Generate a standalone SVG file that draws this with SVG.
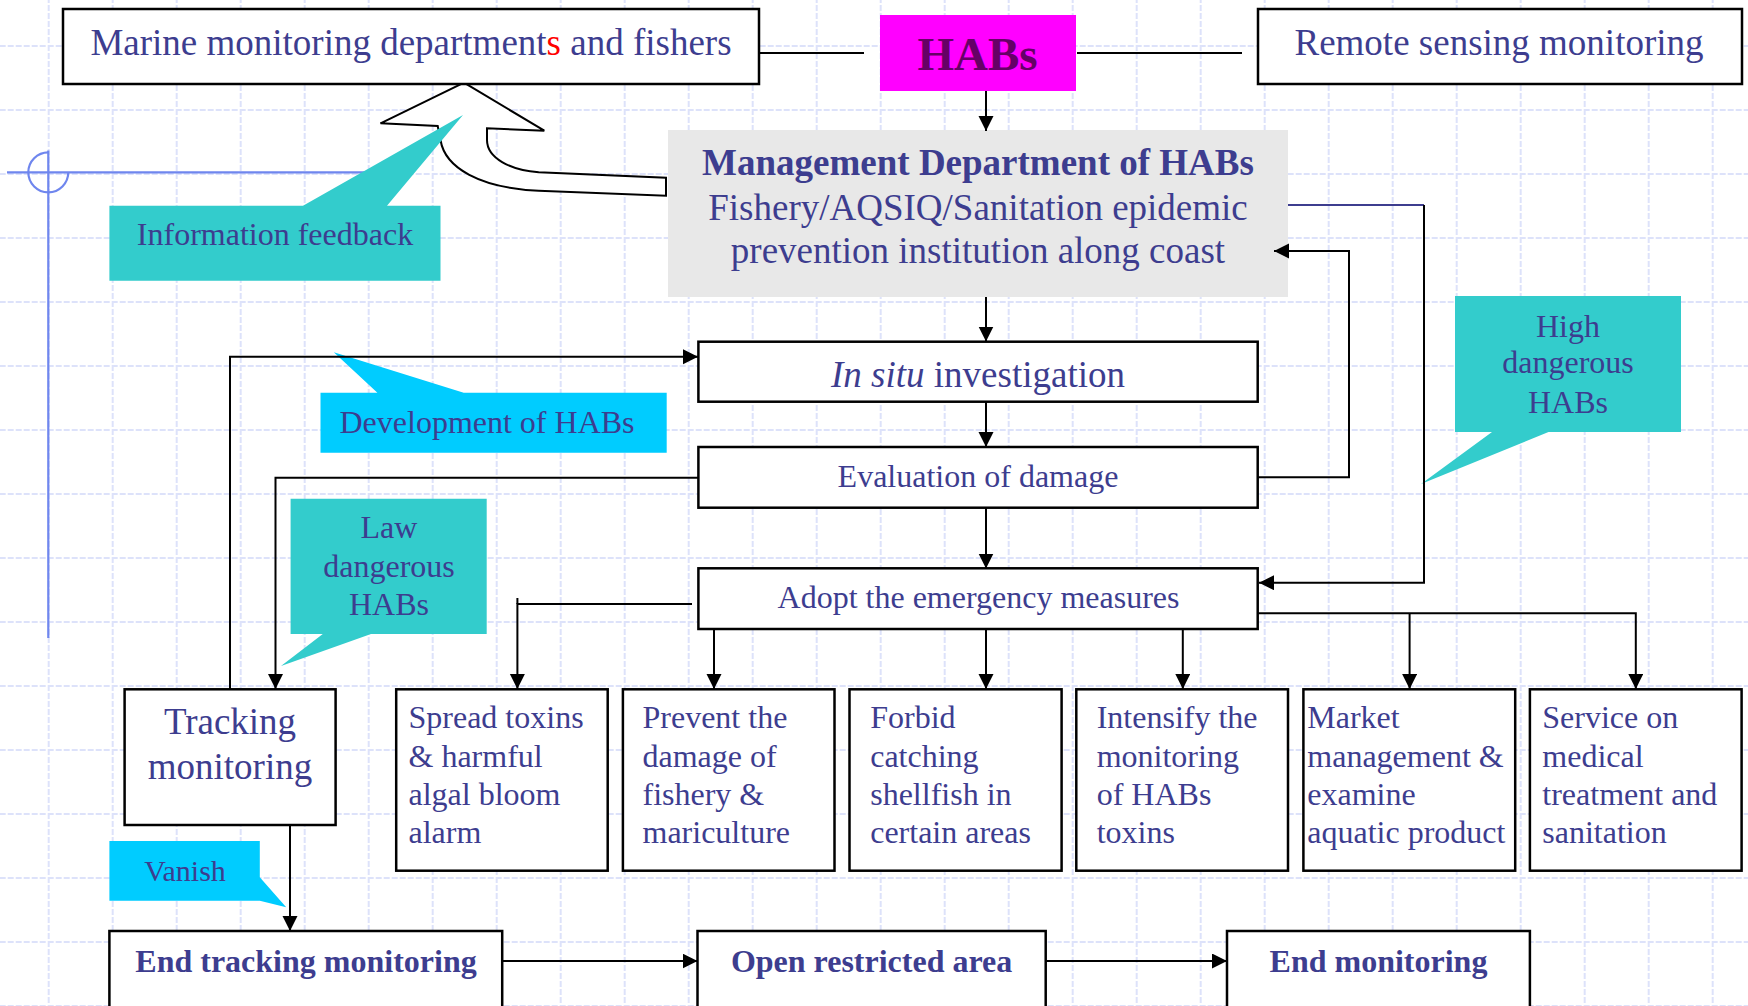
<svg xmlns="http://www.w3.org/2000/svg" width="1748" height="1006" viewBox="0 0 1748 1006">
<defs>
<pattern id="grid" x="47.7" y="45" width="64" height="64" patternUnits="userSpaceOnUse">
<line x1="0" y1="1" x2="64" y2="1" stroke="#dde2fa" stroke-width="2" stroke-dasharray="6 2"/>
<line x1="1" y1="0" x2="1" y2="64" stroke="#dde2fa" stroke-width="2" stroke-dasharray="6 2"/>
</pattern>
<marker id="ah" markerUnits="userSpaceOnUse" markerWidth="16" markerHeight="16" refX="15" refY="7.5" orient="auto">
<path d="M0,0 L15,7.5 L0,15 z" fill="#000"/>
</marker>
<style>
.box{fill:#fff;stroke:#000;stroke-width:2.5}
.t{font-family:"Liberation Serif","Times New Roman",serif;fill:#3d3d8f}
.c{text-anchor:middle}
.b{font-weight:bold}
.f37{font-size:37px}
.f32{font-size:32px}
.con{fill:none;stroke:#000;stroke-width:2}
.arr{marker-end:url(#ah)}
.teal{fill:#33cccc}
.cyan{fill:#00ccff}
</style>
</defs>
<rect width="1748" height="1006" fill="#fff"/>
<rect width="1748" height="1006" fill="url(#grid)"/>

<g id="crosshair" fill="none" stroke="#6f86ee" stroke-width="2.2">
<path d="M48.3,152.3 A20,20 0 1 0 68.3,172.3"/>
<line x1="7" y1="172.3" x2="385" y2="172.3"/>
<line x1="48.3" y1="150.5" x2="48.3" y2="638"/>
</g>

<g id="feedback-arrow">
<path d="M464,82.7 L544.3,130.7 L487,128.3 L487,140 C487,158 510,170 538.7,172.3 L666,177.7 L666,195.7 L538.7,190.7 C480,188 445,168 440.5,140 L437.7,126 L380.5,123.3 Z" fill="#fff" stroke="#000" stroke-width="2"/>
</g>

<g id="callouts">
<g id="info-feedback">
<polygon class="teal" points="109.4,205.7 303,205.7 463,115 387,205.7 440.5,205.7 440.5,280.7 109.4,280.7"/>
<text class="t c f32" x="275" y="245">Information feedback</text>
</g>
<g id="development">
<polygon class="cyan" points="320.5,392.7 377.4,392.7 333.8,352.3 463.7,392.7 666.7,392.7 666.7,452.7 320.5,452.7"/>
<text class="t c f32" x="487" y="432.7">Development of HABs</text>
</g>
<g id="law-dangerous">
<polygon class="teal" points="290.6,498.7 486.7,498.7 486.7,634 371,634 281,666 322.8,634 290.6,634"/>
<text class="t c f32" x="389" y="538.3">Law</text>
<text class="t c f32" x="389" y="576.7">dangerous</text>
<text class="t c f32" x="389" y="615">HABs</text>
</g>
<g id="high-dangerous">
<polygon class="teal" points="1455,296 1681,296 1681,432 1548.5,432 1421,484 1492,432 1455,432"/>
<text class="t c f32" x="1568" y="336.7">High</text>
<text class="t c f32" x="1568" y="373.3">dangerous</text>
<text class="t c f32" x="1568" y="413.3">HABs</text>
</g>
<g id="vanish">
<polygon class="cyan" points="109.4,841 259.8,841 259.8,877.3 286.2,907.3 259.8,900.7 109.4,900.7"/>
<text class="t c" style="font-size:30px" x="185" y="880.7">Vanish</text>
</g>
</g>

<g id="marine">
<rect class="box" x="63" y="9" width="696" height="75"/>
<text class="t c f37" x="411" y="55">Marine monitoring department<tspan fill="#ff0000">s</tspan> and fishers</text>
</g>
<g id="habs">
<rect x="880" y="15" width="196" height="76" fill="#ff00ff"/>
<text class="c b" x="977.5" y="70" style="font-family:'Liberation Serif',serif;font-size:47px;fill:#660066">HABs</text>
</g>
<g id="remote">
<rect class="box" x="1258" y="9" width="484" height="75"/>
<text class="t c f37" x="1499" y="55">Remote sensing monitoring</text>
</g>
<g id="management">
<rect x="668" y="130" width="620" height="167" fill="#e8e8e8"/>
<text class="t c f37 b" x="978" y="175">Management Department of HABs</text>
<text class="t c f37" x="978" y="220">Fishery/AQSIQ/Sanitation epidemic</text>
<text class="t c f37" x="978" y="263.3">prevention institution along coast</text>
</g>
<g id="insitu">
<rect class="box" x="698.4" y="341.7" width="559.3" height="60"/>
<text class="t c f37" x="978" y="387.3"><tspan font-style="italic">In situ</tspan> investigation</text>
</g>
<g id="evaluation">
<rect class="box" x="698.4" y="447" width="559.3" height="60.7"/>
<text class="t c f32" x="978" y="487.3">Evaluation of damage</text>
</g>
<g id="adopt">
<rect class="box" x="698.4" y="568.3" width="559.3" height="60.7"/>
<text class="t c f32" x="978.5" y="608.3">Adopt the emergency measures</text>
</g>
<g id="tracking">
<rect class="box" x="124.6" y="689.3" width="211" height="135.7"/>
<text class="t c f37" x="230" y="734">Tracking</text>
<text class="t c f37" x="230" y="779.3">monitoring</text>
</g>
<g id="spread">
<rect class="box" x="396.2" y="689.3" width="211.5" height="181.4"/>
<text class="t f32" x="408.5" y="728.3">Spread toxins<tspan x="408.5" dy="38.3">&amp; harmful</tspan><tspan x="408.5" dy="38.3">algal bloom</tspan><tspan x="408.5" dy="38.3">alarm</tspan></text>
</g>
<g id="prevent">
<rect class="box" x="622.9" y="689.3" width="211.6" height="181.4"/>
<text class="t f32" x="642.5" y="728.3">Prevent the<tspan x="642.5" dy="38.3">damage of</tspan><tspan x="642.5" dy="38.3">fishery &amp;</tspan><tspan x="642.5" dy="38.3">mariculture</tspan></text>
</g>
<g id="forbid">
<rect class="box" x="849.5" y="689.3" width="212.1" height="181.4"/>
<text class="t f32" x="870.2" y="728.3">Forbid<tspan x="870.2" dy="38.3">catching</tspan><tspan x="870.2" dy="38.3">shellfish in</tspan><tspan x="870.2" dy="38.3">certain areas</tspan></text>
</g>
<g id="intensify">
<rect class="box" x="1076.3" y="689.3" width="211.7" height="181.4"/>
<text class="t f32" x="1096.7" y="728.3">Intensify the<tspan x="1096.7" dy="38.3">monitoring</tspan><tspan x="1096.7" dy="38.3">of HABs</tspan><tspan x="1096.7" dy="38.3">toxins</tspan></text>
</g>
<g id="market">
<rect class="box" x="1303.4" y="689.3" width="211.8" height="181.4"/>
<text class="t f32" x="1307.3" y="728.3">Market<tspan x="1307.3" dy="38.3">management &amp;</tspan><tspan x="1307.3" dy="38.3">examine</tspan><tspan x="1307.3" dy="38.3">aquatic product</tspan></text>
</g>
<g id="service">
<rect class="box" x="1529.9" y="689.3" width="211.7" height="181.4"/>
<text class="t f32" x="1542.3" y="728.3">Service on<tspan x="1542.3" dy="38.3">medical</tspan><tspan x="1542.3" dy="38.3">treatment and</tspan><tspan x="1542.3" dy="38.3">sanitation</tspan></text>
</g>
<g id="end-tracking">
<rect class="box" x="109.4" y="931" width="392.8" height="85"/>
<text class="t c f32 b" x="306" y="971.7">End tracking monitoring</text>
</g>
<g id="open-area">
<rect class="box" x="697.5" y="931" width="348.2" height="85"/>
<text class="t c f32 b" x="871.6" y="971.7">Open restricted area</text>
</g>
<g id="end-monitoring">
<rect class="box" x="1227" y="931" width="302.9" height="85"/>
<text class="t c f32 b" x="1378.5" y="971.7">End monitoring</text>
</g>

<g id="connectors">
<path class="con" d="M759,53 H864"/>
<path class="con" d="M1077,53 H1242"/>
<path class="con arr" d="M986,91 V131"/>
<path class="con arr" d="M986,297 V341.5"/>
<path class="con arr" d="M986,402 V447"/>
<path class="con arr" d="M986,508 V568.5"/>
<path class="con arr" d="M1258,477.3 H1349 V251 H1274"/>
<path class="con" style="stroke:#3d3d8f" d="M1288,205 H1424"/>
<path class="con arr" d="M1424,205 V582.7 H1259"/>
<path class="con arr" d="M1258,613.3 H1635.8 V689"/>
<path class="con arr" d="M1409.6,613.3 V689"/>
<path class="con arr" d="M714,629 V689"/>
<path class="con arr" d="M986,629 V689"/>
<path class="con arr" d="M1182.8,629 V689"/>
<path class="con arr" d="M692,604 H517.4 V689"/>
<path class="con" d="M517.4,598 V604"/>
<path class="con arr" d="M698,477.7 H275.5 V689"/>
<path class="con arr" d="M230,689 V356.7 H698"/>
<path class="con arr" d="M290,825 V931"/>
<path class="con arr" d="M502.2,961 H697.5"/>
<path class="con arr" d="M1045.7,961 H1227"/>
</g>
</svg>
